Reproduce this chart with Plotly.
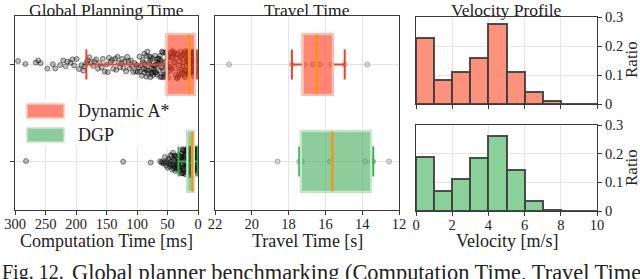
import plotly.graph_objects as go

# ---------------- data ----------------
methods = ["Dynamic A*", "DGP"]

# Global planning (computation) time samples [ms]
astar_comp = [295, 283, 266, 262, 258, 247, 238, 234, 226, 221, 217, 214, 209, 206, 203, 199, 195, 191, 188, 186, 183, 181,
              178, 175, 172, 170, 167, 164, 161, 158, 156, 153, 150, 148, 146, 143, 141, 139, 136, 134, 132, 130, 128, 126,
              124, 122, 120, 118, 116, 114, 112, 110, 108, 106, 104, 102, 101,
              99, 98, 96, 95, 94, 92, 91, 90, 89, 88, 87, 86, 85, 84, 83, 82, 81, 80, 79, 78, 77, 76, 75, 74, 73, 72, 71,
              70, 69, 68, 67, 66, 65, 64, 63, 62, 61, 60, 59, 58, 57, 56, 55, 54, 53, 52, 51,
              88.5, 84.5, 80.5, 76.5, 72.5, 68.5, 64.5, 60.5, 56.5, 52.5, 78.2, 74.8, 70.3, 66.7, 62.2, 58.8, 54.1,
              50, 48, 47, 45, 44, 42, 41, 39, 38, 36, 35, 33, 32, 31, 29, 28, 27, 26, 25, 24, 23, 22, 21, 20, 19, 18,
              17.5, 17, 16.5, 16, 15.5, 15, 14.5, 14, 13.5, 13, 12.5, 12, 11.5, 11, 10.5, 10, 9.5, 9, 8.5, 8, 7.5, 7,
              6.5, 6, 5.5, 5, 49, 46, 43, 40, 37, 34, 30, 27.5, 24.5, 21.5, 18.5, 15.8, 13.2, 10.8, 8.2, 6.2,
              48.5, 45.5, 42.5, 39.5, 36.5, 33.5, 30.5, 28.5, 25.5, 22.5, 19.5, 16.8, 14.2, 11.8, 9.2, 7.2,
              4.8, 4.5, 4.2, 4.0, 3.7, 3.4, 3.1, 2.8, 2.5, 2.2, 2.0]
dgp_comp = [282, 122.6, 77.5,
            62, 60, 58, 57, 55, 54, 52, 51, 50, 49, 48, 47, 46, 45, 44.5, 44, 43, 42.5, 42, 41, 40.5, 40, 39.5, 39,
            38.5, 38, 37.5, 37, 36.5, 36, 35.5, 35, 34.5, 34, 33.5, 33, 32.5, 32,
            31.5, 31, 30.5, 30, 29.5, 29, 28.5, 28, 27.5, 27, 26.5, 26, 25.5, 25, 24.5, 24, 23.5, 23, 22.5, 22, 21.5,
            21, 20.5, 20, 19.5, 19, 18.5, 18, 17.5, 17, 16.6, 16.2, 15.8, 15.4, 15, 14.6, 14.2, 13.8, 13.4, 13, 12.7,
            12.4, 12.1, 11.8, 11.5, 11.2, 10.9, 10.6, 10.3, 10, 9.8, 9.6, 9.4, 9.2, 9, 8.8, 8.6, 8.4, 8.2, 8, 7.8, 7.6,
            7.4, 7.2, 7, 6.8, 6.6, 6.4, 6.2, 6, 5.8, 5.6, 5.4, 5.2, 5, 4.7, 4.4, 4.1, 3.8, 3.5, 3.2, 2.9, 2.6, 2.3, 2,
            1.7, 1.4, 1.1, 0.8, 0.5,
            28.2, 26.8, 25.3, 23.9, 22.4, 20.8, 19.3, 17.8, 16.4, 14.9, 13.6, 12.2, 10.8, 9.9, 8.9, 7.9, 6.9, 5.9, 4.9, 3.9,
            29.7, 27.2, 24.7, 22.2, 19.7, 17.2, 14.7, 12.3, 10.1, 8.1, 6.1, 4.3, 2.7, 1.2]

# Box statistics for computation time [ms]: (lower whisker, q1, median, q3, upper whisker)
comp_stats = {
    "Dynamic A*": [2.0, 4.9, 14.3, 51.3, 183.0],
    "DGP": [0.5, 6.6, 9.3, 17.5, 32.0],
}

# Travel time samples [s]
astar_travel = [21.24, 17.82, 17.16, 16.66, 16.3, 15.66, 14.95, 13.72]
dgp_travel = [18.6, 17.42, 17.29, 15.75, 13.84, 13.48, 13.4, 12.54]
travel_stats = {
    "Dynamic A*": [14.95, 15.6, 16.47, 17.23, 17.82],
    "DGP": [13.4, 13.52, 15.62, 17.33, 17.42],
}

# Velocity profile histogram (ratio per 1 m/s bin)
vel_edges = [0, 1, 2, 3, 4, 5, 6, 7, 8, 9, 10]
astar_vel_ratio = [0.229, 0.083, 0.110, 0.158, 0.275, 0.111, 0.040, 0.009, 0.0, 0.0]
dgp_vel_ratio = [0.189, 0.070, 0.113, 0.184, 0.261, 0.142, 0.034, 0.004, 0.0, 0.0]

comp_ticks = [300, 250, 200, 150, 100, 50, 0]
travel_ticks = [22, 20, 18, 16, 14, 12]
vel_ticks = [0, 2, 4, 6, 8, 10]
ratio_ticks = [0, 0.1, 0.2, 0.3]
ratio_ticktext = ["0", "0.1", "0.2", "0.3"]

# ---------------- style ----------------
W, H = 640, 279
FONT = "Liberation Serif"
fill = {"Dynamic A*": "rgba(255,55,22,0.6)", "DGP": "rgba(63,172,88,0.6)"}
edge = {"Dynamic A*": "rgb(255,196,182)", "DGP": "rgb(196,232,204)"}
whisk = {"Dynamic A*": "rgb(240,65,35)", "DGP": "rgb(45,180,75)"}
median_col = "rgb(255,140,0)"
hist_fill = {"Dynamic A*": "rgb(252,146,124)", "DGP": "rgb(138,208,154)"}


def px_x(x):
    return x / W


def px_y(y):
    return 1 - y / H


fig = go.Figure()

rowpos = {"Dynamic A*": 0, "DGP": 1}


def add_box_group(samples, stats, name, xa, ya, jitter, pts_marker):
    pos = rowpos[name]
    lo, q1, med, q3, hi = stats
    # sample points (jittered by plotly)
    fig.add_trace(go.Box(x=samples, y0=pos, orientation="h", boxpoints="all", jitter=jitter, pointpos=0,
                         width=0.28, fillcolor="rgba(0,0,0,0)", line=dict(width=0, color="rgba(0,0,0,0)"),
                         marker=pts_marker, xaxis=xa, yaxis=ya, showlegend=False, hoverinfo="skip"))
    # whiskers
    fig.add_trace(go.Box(y=[pos], orientation="h", q1=[q1], median=[med], q3=[q3], lowerfence=[lo],
                         upperfence=[hi], width=0.62, whiskerwidth=0.5, fillcolor="rgba(0,0,0,0)",
                         line=dict(color=whisk[name], width=2), xaxis=xa, yaxis=ya, showlegend=False,
                         hoverinfo="skip"))
    # box body
    fig.add_trace(go.Box(y=[pos], orientation="h", q1=[q1], median=[med], q3=[q3], lowerfence=[q1],
                         upperfence=[q3], width=0.62, whiskerwidth=0, fillcolor=fill[name],
                         line=dict(color=edge[name], width=2.2), xaxis=xa, yaxis=ya, showlegend=False,
                         hoverinfo="skip"))
    # median line
    fig.add_trace(go.Box(y=[pos], orientation="h", q1=[med], median=[med], q3=[med], lowerfence=[med],
                         upperfence=[med], width=0.62, whiskerwidth=0, fillcolor="rgba(0,0,0,0)",
                         line=dict(color=median_col, width=2.2), xaxis=xa, yaxis=ya, showlegend=False,
                         hoverinfo="skip"))


comp_marker = dict(symbol="circle", size=5, color="rgba(40,40,40,0.3)",
                   line=dict(width=0.8, color="rgba(0,0,0,0.55)"))
travel_marker = dict(symbol="circle", size=5, color="rgba(150,150,150,0.35)",
                     line=dict(width=0.8, color="rgba(90,90,90,0.5)"))

add_box_group(astar_comp, comp_stats["Dynamic A*"], "Dynamic A*", "x", "y", 1.0, comp_marker)
add_box_group(dgp_comp, comp_stats["DGP"], "DGP", "x", "y", 1.0, comp_marker)
add_box_group(astar_travel, travel_stats["Dynamic A*"], "Dynamic A*", "x2", "y2", 0.0, travel_marker)
add_box_group(dgp_travel, travel_stats["DGP"], "DGP", "x2", "y2", 0.0, travel_marker)

centers = [(a + b) / 2 for a, b in zip(vel_edges[:-1], vel_edges[1:])]
fig.add_trace(go.Bar(x=centers, y=astar_vel_ratio, width=1, marker=dict(color=hist_fill["Dynamic A*"],
                     line=dict(color="rgba(60,60,60,0.9)", width=2)), xaxis="x3", yaxis="y3", showlegend=False))
fig.add_trace(go.Bar(x=centers, y=dgp_vel_ratio, width=1, marker=dict(color=hist_fill["DGP"],
                     line=dict(color="rgba(60,60,60,0.9)", width=2)), xaxis="x4", yaxis="y4", showlegend=False))

tickfont = dict(family=FONT, size=14.5, color="#222")
axcommon = dict(showline=True, linecolor="#3a3a3a", linewidth=1.3, mirror=True, ticks="outside", ticklen=4,
                tickcolor="#3a3a3a", gridcolor="#e4e4e4", gridwidth=1, zeroline=False, tickfont=tickfont,
                automargin=False)
xtick_extra = dict(ticklabelstandoff=-4)

box_ydom = [px_y(210), px_y(16)]
fig.update_layout(
    width=W, height=H, margin=dict(l=0, r=0, t=0, b=0, pad=0, autoexpand=False),
    paper_bgcolor="white", plot_bgcolor="white", autosize=False,
    boxmode="overlay", bargap=0, showlegend=False,
    xaxis=dict(domain=[px_x(15), px_x(198)], range=[300, 0], tickvals=comp_ticks, anchor="y",
               **axcommon, **xtick_extra),
    yaxis=dict(domain=box_ydom, range=[1.5, -0.5], tickvals=[0, 1], showticklabels=False, anchor="x",
               showgrid=True, **axcommon),
    xaxis2=dict(domain=[px_x(215), px_x(399)], range=[22, 12], tickvals=travel_ticks, anchor="y2",
                **axcommon, **xtick_extra),
    yaxis2=dict(domain=box_ydom, range=[1.5, -0.5], tickvals=[0, 1], showticklabels=False, anchor="x2",
                showgrid=True, **axcommon),
    xaxis3=dict(domain=[px_x(416), px_x(597)], range=[0, 10], tickvals=vel_ticks, showticklabels=False,
                anchor="y3", **axcommon),
    yaxis3=dict(domain=[px_y(104), px_y(17)], range=[0, 0.3], tickvals=ratio_ticks, ticktext=ratio_ticktext,
                side="right", anchor="x3", **axcommon),
    xaxis4=dict(domain=[px_x(416), px_x(597)], range=[0, 10], tickvals=vel_ticks, anchor="y4",
                **axcommon, **xtick_extra),
    yaxis4=dict(domain=[px_y(211), px_y(125)], range=[0, 0.3], tickvals=ratio_ticks, ticktext=ratio_ticktext,
                side="right", anchor="x4", **axcommon),
)

ann = []


def text(t, x, y, size=18, xanchor="center", angle=0):
    ann.append(dict(text=t, x=px_x(x), y=px_y(y), xref="paper", yref="paper", showarrow=False,
                    xanchor=xanchor, yanchor="middle", textangle=angle, borderpad=0,
                    font=dict(family=FONT, size=size, color="#222")))


text("Global Planning Time", 106.5, 9.5, size=17.5)
text("Travel Time", 307, 9.5, size=17.5)
text("Velocity Profile", 506.5, 9.5, size=17.5)
text("Computation Time [ms]", 106.5, 241)
text("Travel Time [s]", 307, 241)
text("Velocity [m/s]", 506.5, 241)
text("Ratio", 631, 60, angle=-90, size=17)
text("Ratio", 631, 168, angle=-90, size=17)
text("Dynamic A*", 77, 111, xanchor="left")
text("DGP", 77, 135, xanchor="left")
text("Fig. 12.", 1, 272, size=20, xanchor="left")
text("Global planner benchmarking (Computation Time, Travel Time",
     71, 272, size=22.4, xanchor="left")
fig.update_layout(annotations=ann)

shapes = [
    dict(type="rect", xref="paper", yref="paper", x0=px_x(20), x1=px_x(172), y0=px_y(147), y1=px_y(99),
         fillcolor="rgba(255,255,255,0.85)", line=dict(width=0), layer="above"),
    dict(type="rect", xref="paper", yref="paper", x0=px_x(27), x1=px_x(64), y0=px_y(118), y1=px_y(104),
         fillcolor=fill["Dynamic A*"], line=dict(color=edge["Dynamic A*"], width=1.5), layer="above"),
    dict(type="rect", xref="paper", yref="paper", x0=px_x(27), x1=px_x(64), y0=px_y(142), y1=px_y(128),
         fillcolor=fill["DGP"], line=dict(color=edge["DGP"], width=1.5), layer="above"),
]
fig.update_layout(shapes=shapes)

fig.write_html("out.html", config={"displayModeBar": False},
               post_script="document.body.style.margin='0';document.body.style.overflow='hidden';")
